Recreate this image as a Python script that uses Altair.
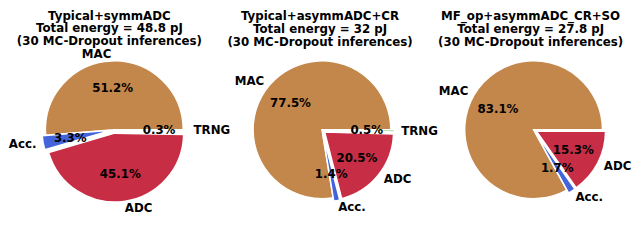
import altair as alt
import pandas as pd

# ---- data ----
titles = [
    ["Typical+symmADC", "Total energy = 48.8 pJ", "(30 MC-Dropout inferences)"],
    ["Typical+asymmADC+CR", "Total energy = 32 pJ", "(30 MC-Dropout inferences)"],
    ["MF_op+asymmADC_CR+SO", "Total energy = 27.8 pJ", "(30 MC-Dropout inferences)"],
]
parts = [
    ["MAC", "Acc.", "ADC", "TRNG"],
    ["MAC", "Acc.", "ADC", "TRNG"],
    ["MAC", "Acc.", "ADC"],
]
shares = [
    [51.2, 3.3, 45.1, 0.3],
    [77.5, 1.4, 20.5, 0.5],
    [83.1, 1.7, 15.3],
]
explode = {"MAC": 0.0, "Acc.": 0.05, "ADC": 0.05, "TRNG": 0.05}
color_domain = ["MAC", "Acc.", "ADC", "TRNG"]
color_range = ["#C4874B", "#4364DA", "#C72E45", "#6CCF5F"]

# ---- styling / layout ----
R = 70          # pie radius in px (= 1 data unit)
W = 204
H = 170
TOP = 82        # px from plot top to pie centre
FONT = "DejaVu Sans"
shifts = [5, 2, 3]


def panel(i):
    df = pd.DataFrame({
        "part": parts[i],
        "share": shares[i],
        "order": list(range(len(parts[i]))),
    })
    df["explode"] = df["part"].map(explode)

    x0 = -(W / 2 + shifts[i]) / R
    xs = alt.Scale(domain=[x0, x0 + W / R])
    ys = alt.Scale(domain=[-(H - TOP) / R, TOP / R])

    base = (
        alt.Chart(df)
        .transform_joinaggregate(total="sum(share)")
        .transform_window(cum="sum(share)", sort=[alt.SortField("order")], frame=[None, 0])
        .transform_calculate(a1="2*PI*(datum.cum - datum.share)/datum.total")
        .transform_calculate(a2="2*PI*datum.cum/datum.total")
        .transform_calculate(m="(datum.a1 + datum.a2)/2")
        .transform_calculate(t1="PI/2 - datum.a2")
        .transform_calculate(t2="PI/2 - datum.a1")
        .transform_calculate(cx="datum.explode*cos(datum.m)")
        .transform_calculate(cy="datum.explode*sin(datum.m)")
        .transform_calculate(lx="datum.cx + 1.1*cos(datum.m)")
        .transform_calculate(ly="datum.cy + 1.1*sin(datum.m)")
        .transform_calculate(px="datum.cx + 0.6*cos(datum.m)")
        .transform_calculate(py="datum.cy + 0.6*sin(datum.m)")
        .transform_calculate(pct="format(datum.share, '.1f') + '%'")
    )

    arcs = base.mark_arc(radius=R, stroke="white", strokeWidth=1.5).encode(
        x=alt.X("cx:Q", scale=xs, axis=None),
        y=alt.Y("cy:Q", scale=ys, axis=None),
        theta=alt.Theta("t1:Q", scale=None, stack=False),
        theta2=alt.Theta2("t2"),
        color=alt.Color("part:N", scale=alt.Scale(domain=color_domain, range=color_range), legend=None),
    )

    txt = dict(font=FONT, fontWeight="bold", fontSize=12, color="black", baseline="middle")
    lab_l = base.transform_filter("datum.lx > 0").mark_text(align="left", **txt).encode(
        x=alt.X("lx:Q", scale=xs, axis=None),
        y=alt.Y("ly:Q", scale=ys, axis=None),
        text="part:N",
    )
    lab_r = base.transform_filter("datum.lx <= 0").mark_text(align="right", **txt).encode(
        x=alt.X("lx:Q", scale=xs, axis=None),
        y=alt.Y("ly:Q", scale=ys, axis=None),
        text="part:N",
    )
    pcts = base.mark_text(align="center", **txt).encode(
        x=alt.X("px:Q", scale=xs, axis=None),
        y=alt.Y("py:Q", scale=ys, axis=None),
        text="pct:N",
    )
    return alt.layer(arcs, pcts, lab_l, lab_r).properties(
        width=W,
        height=H,
        title=alt.TitleParams(
            text=titles[i],
            font=FONT,
            fontSize=12,
            fontWeight="bold",
            lineHeight=13,
            anchor="middle",
            color="black",
            offset=0,
        ),
    )


chart = (
    alt.hconcat(panel(0), panel(1), panel(2), spacing=10, bounds="flush")
    .properties(padding=0, background="white")
    .configure_view(stroke=None)
)

chart.save("out.html", embed_options={"renderer": "svg", "actions": False})
